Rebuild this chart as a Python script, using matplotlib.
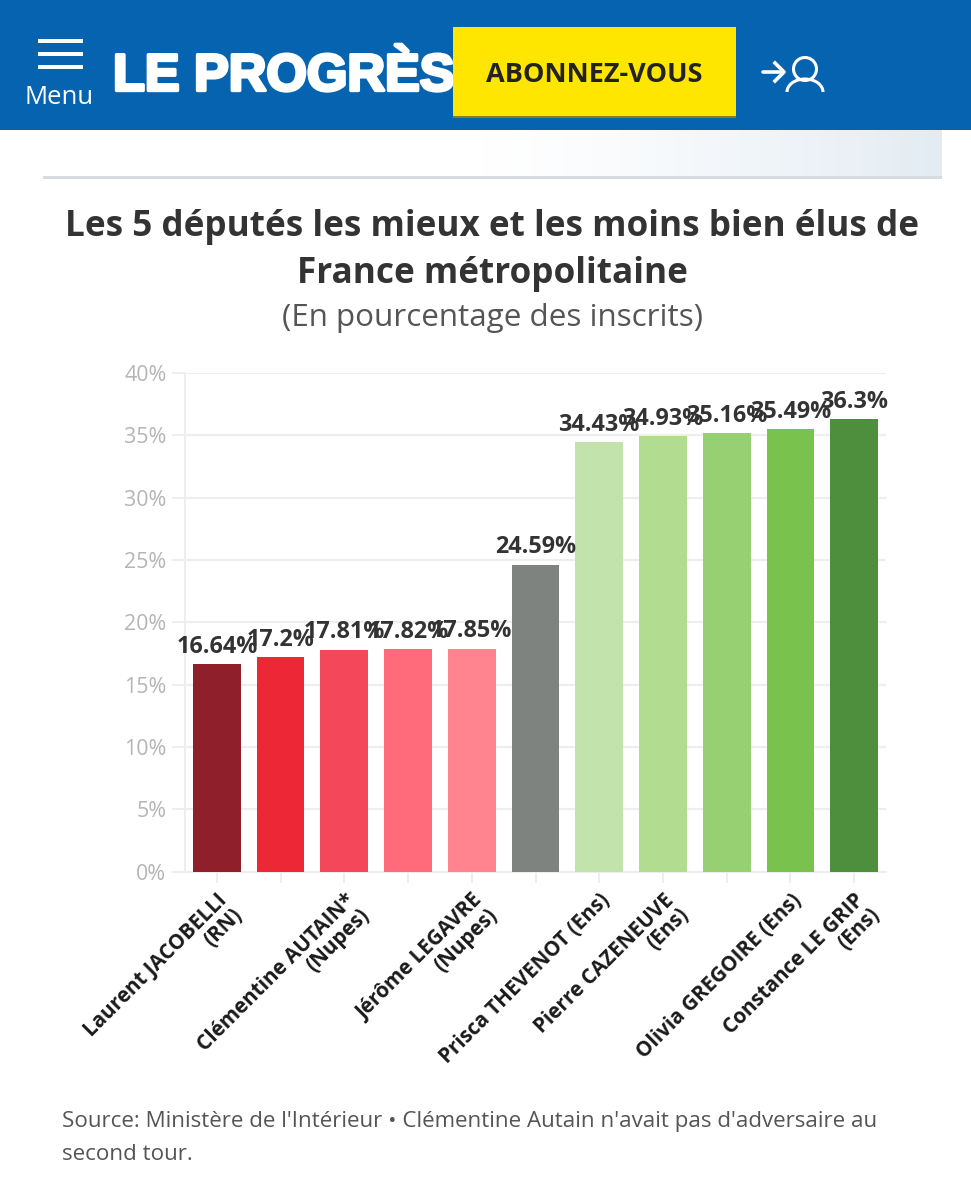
import numpy as np
import matplotlib
matplotlib.use("Agg")
import matplotlib.pyplot as plt
from matplotlib.patches import Rectangle, Circle, Arc
import matplotlib.patheffects as pe

values = [16.64, 17.2, 17.81, 17.82, 17.85, 24.59, 34.43, 34.93, 35.16, 35.49, 36.3]
value_labels = ["16.64%", "17.2%", "17.81%", "17.82%", "17.85%", "24.59%",
                "34.43%", "34.93%", "35.16%", "35.49%", "36.3%"]
bar_colors = ["#8F1F2A", "#EE2737", "#F5475A", "#FF6B7A", "#FF8490", "#7F8380",
              "#C2E3AC", "#B2DC90", "#97D072", "#7AC24E", "#4E8F3E"]
tick_labels = ["Laurent JACOBELLI\n(RN)", "", "Clémentine AUTAIN*\n(Nupes)", "",
               "Jérôme LEGAVRE\n(Nupes)", "", "Prisca THEVENOT (Ens)",
               "Pierre CAZENEUVE\n(Ens)", "", "Olivia GREGOIRE (Ens)",
               "Constance LE GRIP\n(Ens)"]
y_ticks = [0, 5, 10, 15, 20, 25, 30, 35, 40]
title_lines = ["Les 5 députés les mieux et les moins bien élus de", "France métropolitaine"]
subtitle = "(En pourcentage des inscrits)"
source_lines = ["Source: Ministère de l'Intérieur • Clémentine Autain n'avait pas d'adversaire au",
                "second tour."]

W, H = 971, 1200
plt.rcParams['font.family'] = ['Open Sans', 'DejaVu Sans']
fig = plt.figure(figsize=(W / 100, H / 100), dpi=100, facecolor="white")

# page furniture, in pixel coordinates
pg = fig.add_axes([0, 0, 1, 1], zorder=0)
pg.set_xlim(0, W)
pg.set_ylim(H, 0)
pg.axis("off")

grad = np.linspace(0, 1, 256).reshape(1, -1)
grad = np.clip((grad - 0.1) / 0.9, 0, 1) ** 1.3
img = np.ones((1, 256, 3))
end = np.array([0.89, 0.925, 0.955])
for c in range(3):
    img[0, :, c] = 1 + (end[c] - 1) * grad[0]
pg.imshow(img, extent=(430, 942, 177, 130), aspect="auto", zorder=1)
pg.set_xlim(0, W)
pg.set_ylim(H, 0)
pg.add_patch(Rectangle((43, 176), 899, 2.5, color="#D6DAE1", lw=0, zorder=2))

pg.add_patch(Rectangle((0, 0), W, 130, color="#0563AF", lw=0, zorder=2))
for y in (41, 54, 67):
    pg.add_patch(Rectangle((38, y - 2), 45, 4, color="white", lw=0, zorder=3))
pg.text(59.5, 97, "Menu", color="white", fontsize=18.5, ha="center", va="center", zorder=3)
pg.text(113, 77, "LE PROGRÈS", color="white", fontsize=37.5, fontweight="bold", ha="left", va="center",
        family=["Liberation Sans"], zorder=3,
        path_effects=[pe.withStroke(linewidth=2.4, foreground="white")])
pg.add_patch(Rectangle((453, 27), 283, 90, color="#FFE600", lw=0, zorder=4))
pg.add_patch(Rectangle((453, 116), 283, 2, color="#8A7E10", lw=0, zorder=4))
pg.text(594, 75, "ABONNEZ-VOUS", color="#222222", fontsize=19.5, fontweight="bold",
        ha="center", va="center", zorder=5)
# login icon
pg.plot([763, 783], [72, 72], color="white", lw=2.6, zorder=3, solid_capstyle="round")
pg.plot([775, 784, 775], [63, 72, 81], color="white", lw=2.6, zorder=3)
pg.add_patch(Circle((805, 69), 11.5, fill=False, ec="white", lw=2.2, zorder=3))
pg.add_patch(Arc((805, 92), 36, 26, theta1=180, theta2=360, ec="white", lw=2.2, zorder=3))

pg.text(492, 227, title_lines[0], fontsize=25.3, fontweight="bold", color="#333333", ha="center", va="center")
pg.text(492, 274, title_lines[1], fontsize=25.3, fontweight="bold", color="#333333", ha="center", va="center")
pg.text(492, 318, subtitle, fontsize=22.6, color="#555555", ha="center", va="center")
pg.text(62, 1121, source_lines[0], fontsize=16.1, color="#555555", ha="left", va="center")
pg.text(62, 1154, source_lines[1], fontsize=16.1, color="#555555", ha="left", va="center")

# chart
L, R, T, B = 185, 886, 373, 871.5
ax = fig.add_axes([L / W, 1 - B / H, (R - L) / W, (B - T) / H], zorder=2)
ax.patch.set_alpha(0)
x = np.arange(len(values))
ax.bar(x, values, width=0.75, color=bar_colors, zorder=3)
ax.set_xlim(-0.5, len(values) - 0.5)
ax.set_ylim(0, 40)
ax.set_yticks(y_ticks)
ax.set_yticklabels([f"{t}%" for t in y_ticks], color="#B5B5B5", fontsize=15.4)
ax.set_xticks(x)
ax.set_xticklabels(tick_labels, rotation=45, ha="right", va="top", rotation_mode="anchor",
                   fontsize=14.9, fontweight="bold", color="#1A1A1A", linespacing=1.0)
ax.tick_params(axis="y", length=9.4, width=1.4, color="#EEEEEE", pad=4)
ax.tick_params(axis="x", length=8, width=1.4, color="#EEEEEE", pad=5)
ax.grid(axis="y", color="#EEEEEE", lw=1.6, zorder=0)
ax.set_axisbelow(True)
for s in ("top", "right"):
    ax.spines[s].set_visible(False)
for s in ("left", "bottom"):
    ax.spines[s].set_color("#EEEEEE")
    ax.spines[s].set_linewidth(1.4)
for xi, v, lab in zip(x, values, value_labels):
    ax.annotate(lab, (xi, v), xytext=(0, 4), textcoords="offset points", ha="center", va="bottom",
                fontsize=16.8, fontweight="bold", color="#333333", zorder=4)

fig.savefig("out.png", dpi=100)
